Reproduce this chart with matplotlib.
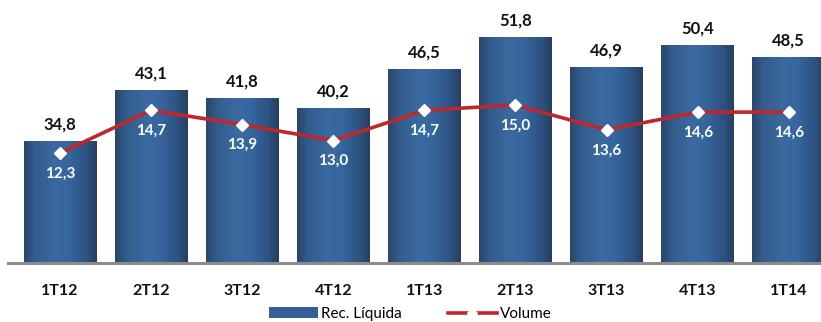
import numpy as np
import matplotlib
matplotlib.use("Agg")
import matplotlib.pyplot as plt
from matplotlib.colors import LinearSegmentedColormap
from matplotlib.patches import Patch
from matplotlib.lines import Line2D

plt.rcParams['font.family'] = ['Lato', 'DejaVu Sans']

periodos = ['1T12', '2T12', '3T12', '4T12', '1T13', '2T13', '3T13', '4T13', '1T14']
receita = [34.8, 43.1, 41.8, 40.2, 46.5, 51.8, 46.9, 50.4, 48.5]
volume = [12.3, 14.7, 13.9, 13.0, 14.7, 15.0, 13.6, 14.6, 14.6]

def br(v):
    return ('%.1f' % v).replace('.', ',')

cmap = LinearSegmentedColormap.from_list('barra', [
    (0.0, '#2a4669'), (0.15, '#335c8c'), (0.42, '#3a6aa0'),
    (0.6, '#3767a0'), (0.85, '#2e5382'), (1.0, '#263f60')])
grad = np.linspace(0, 1, 256).reshape(1, -1)

fig = plt.figure(figsize=(8.21, 3.22), dpi=100)
ax = fig.add_axes([8/821, 59/322, 813/821, 263/322])
ax2 = ax.twinx()

x = np.arange(len(periodos))
w = 0.8
ymin, ymax = 14.9, 57.9
for xi, v in zip(x, receita):
    ax.imshow(grad, extent=[xi - w/2, xi + w/2, ymin, v], aspect='auto',
              cmap=cmap, zorder=2, interpolation='bicubic')
    ax.text(xi, v + 1.5, br(v), ha='center', va='bottom', fontsize=12,
            fontweight='bold', color='#111111')

ax.set_xlim(-0.571, 8.354)
ax.set_ylim(ymin, ymax)
ax.axhline(ymin, color='#8c8c8c', lw=2.2, zorder=3, clip_on=False)

ax2.plot(x, volume, color='#c0272d', lw=2.6, marker='D', ms=6,
         mfc='white', mec='white', zorder=5)
for xi, v in zip(x, volume):
    ax2.text(xi, v - 1.15, br(v), ha='center', va='center', fontsize=11,
             fontweight='bold', color='white')
ax2.set_ylim(6.12, 20.9)

for a in (ax, ax2):
    a.set_xticks([])
    a.set_yticks([])
    for s in a.spines.values():
        s.set_visible(False)

for xi, p in zip(x, periodos):
    ax.text(xi, ymin - 4.5, p, ha='center', va='center', fontsize=11.5,
            fontweight='bold', color='#111111', clip_on=False)

handles = [Patch(facecolor='#34609a', edgecolor='none', label='Rec. Líquida'),
           Line2D([], [], color='#c0272d', lw=2.6, marker='D', ms=5,
                  mfc='white', mec='white', label='Volume')]
fig.legend(handles=handles, loc='lower center', bbox_to_anchor=(0.5, -0.04),
           ncol=2, frameon=False, fontsize=11, handlelength=3.2,
           handletextpad=0.2, columnspacing=3.0)

fig.savefig('out.png', dpi=100)
